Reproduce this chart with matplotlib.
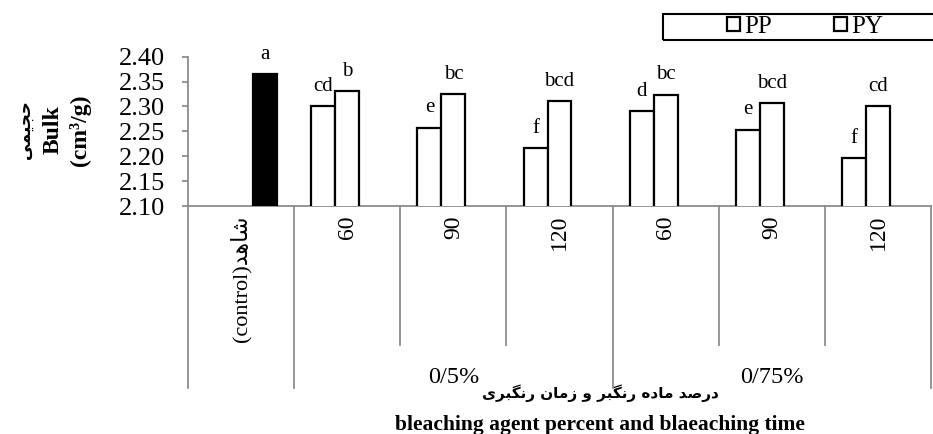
import matplotlib
matplotlib.use("Agg")
import matplotlib.pyplot as plt
from matplotlib.patches import Patch, Rectangle
import numpy as np

# --- data ---
groups = ["0/5%", "0/75%"]
times = ["60", "90", "120", "60", "90", "120"]
control_value = 2.365
control_letter = "a"
pp_values = [2.300, 2.257, 2.216, 2.291, 2.253, 2.196]
py_values = [2.331, 2.325, 2.310, 2.324, 2.307, 2.300]
pp_letters = ["cd", "e", "f", "d", "e", "f"]
py_letters = ["b", "bc", "bcd", "bc", "bcd", "cd"]
y_ticks = [2.10, 2.15, 2.20, 2.25, 2.30, 2.35, 2.40]

# --- persian shaping (matplotlib has no bidi / joining) ---
# isolated, final, initial, medial
FORMS = {
    "ا": ("\uFE8D", "\uFE8E", None, None),
    "ب": ("\uFE8F", "\uFE90", "\uFE91", "\uFE92"),
    "ج": ("\uFE9D", "\uFE9E", "\uFE9F", "\uFEA0"),
    "ح": ("\uFEA1", "\uFEA2", "\uFEA3", "\uFEA4"),
    "د": ("\uFEA9", "\uFEAA", None, None),
    "ر": ("\uFEAD", "\uFEAE", None, None),
    "ز": ("\uFEAF", "\uFEB0", None, None),
    "ش": ("\uFEB5", "\uFEB6", "\uFEB7", "\uFEB8"),
    "ص": ("\uFEB9", "\uFEBA", "\uFEBB", "\uFEBC"),
    "م": ("\uFEE1", "\uFEE2", "\uFEE3", "\uFEE4"),
    "ن": ("\uFEE5", "\uFEE6", "\uFEE7", "\uFEE8"),
    "ه": ("\uFEE9", "\uFEEA", "\uFEEB", "\uFEEC"),
    "و": ("\uFEED", "\uFEEE", None, None),
    "ی": ("\uFBFC", "\uFBFD", "\uFBFE", "\uFBFF"),
    "گ": ("\uFB92", "\uFB93", "\uFB94", "\uFB95"),
}

def fa(text):
    out = []
    for i, ch in enumerate(text):
        if ch not in FORMS:
            out.append(ch)
            continue
        prev = text[i - 1] if i > 0 else ""
        nxt = text[i + 1] if i + 1 < len(text) else ""
        p = prev in FORMS and FORMS[prev][2] is not None
        n = nxt in FORMS and FORMS[ch][2] is not None
        isol, fin, ini, med = FORMS[ch]
        out.append(med if p and n else fin if p else ini if n else isol)
    return "".join(reversed(out))

SERIF = ["Liberation Serif", "DejaVu Sans"]
plt.rcParams["font.family"] = SERIF
GRAY = "#8c8c8c"
W, H = 933, 434

fig = plt.figure(figsize=(W / 100, H / 100), dpi=100)
ax = fig.add_axes([188 / W, (H - 206) / H, (931 - 188) / W, (206 - 56.7) / H])

bw = 0.226
x = np.arange(1, 7)
ax.bar(x - bw, pp_values, bw, color="white", edgecolor="black", linewidth=1.6, zorder=3)
ax.bar(x, py_values, bw, color="white", edgecolor="black", linewidth=1.6, zorder=3)
ax.bar([0 + bw], [control_value], bw, color="black", edgecolor="black", linewidth=1.6, zorder=3)

def letter(xp, yp, s):
    ax.annotate(s, (xp, yp), xytext=(0, 7.5), textcoords="offset points",
                ha="center", va="bottom", fontsize=15, annotation_clip=False)

letter(bw, control_value, control_letter)
for i in range(6):
    letter(x[i] - bw, pp_values[i], pp_letters[i])
    letter(x[i], py_values[i], py_letters[i])

ax.set_xlim(-0.5, 6.5)
ax.set_ylim(2.10, 2.40)
ax.set_yticks(y_ticks)
ax.set_yticklabels([f"{v:.2f}" for v in y_ticks], fontsize=19)
ax.tick_params(axis="y", length=4.5, color=GRAY, width=1.3, pad=12)
ax.set_xticks([])
for s in ["top", "right"]:
    ax.spines[s].set_visible(False)
for s in ["left", "bottom"]:
    ax.spines[s].set_color(GRAY)
    ax.spines[s].set_linewidth(1.3)

# hierarchical category axis
trans = ax.get_xaxis_transform()
inner_y = -(345 - 206) / 149.3
outer_y = -(388 - 206) / 149.3
for b in [-0.5, 0.5, 3.5, 6.5]:
    ax.plot([b, b], [0, outer_y], color=GRAY, lw=1.3, transform=trans, clip_on=False)
for b in [1.5, 2.5, 4.5, 5.5]:
    ax.plot([b, b], [0, inner_y], color=GRAY, lw=1.3, transform=trans, clip_on=False)

lab_y = -9 / 149.3
ax.text(0, lab_y, "(control)" + fa("شاهد"), rotation=90, ha="center", va="top",
        fontsize=16, transform=trans, family=SERIF)
for i, t in enumerate(times):
    ax.text(x[i], lab_y, t, rotation=90, ha="center", va="top", fontsize=17, transform=trans)
grp_y = -(377 - 206) / 149.3
ax.text(2, grp_y, groups[0], ha="center", va="center", fontsize=17.5, transform=trans)
ax.text(5, grp_y, groups[1], ha="center", va="center", fontsize=17.5, transform=trans)

# axis titles
fig.text(600 / W, 1 - 393 / H, fa("درصد ماده رنگبر و زمان رنگبری"), ha="center", va="center",
         fontsize=11, fontweight="bold", family=["DejaVu Sans"])
fig.text(600 / W, 1 - 425 / H, "bleaching agent percent and blaeaching time", ha="center",
         va="center", fontsize=15.5, fontweight="bold")
fig.text(25 / W, 1 - 130 / H, fa("حجیمی"), rotation=90, ha="center", va="center",
         fontsize=12, fontweight="bold", family=["DejaVu Sans"])
fig.text(53 / W, 1 - 130 / H, "Bulk", rotation=90, ha="center", va="center",
         fontsize=17, fontweight="bold")
fig.text(80 / W, 1 - 130 / H, "(cm³/g)", rotation=90, ha="center", va="center",
         fontsize=17, fontweight="bold")

# legend
handles = [Patch(facecolor="white", edgecolor="black", linewidth=1.6),
           Patch(facecolor="white", edgecolor="black", linewidth=1.6)]
fig.legend(handles, ["PP", "PY"], loc="center", bbox_to_anchor=(805 / W, 1 - 27 / H),
           ncol=2, frameon=False, fontsize=18, handlelength=0.52, handleheight=0.52,
           handletextpad=0.16, columnspacing=2.5, borderpad=0)
fig.add_artist(Rectangle((663 / W, 1 - 40 / H), 272 / W, 26 / H, transform=fig.transFigure,
                         fill=False, edgecolor="black", linewidth=1.5))

fig.savefig("out.png", dpi=100)
